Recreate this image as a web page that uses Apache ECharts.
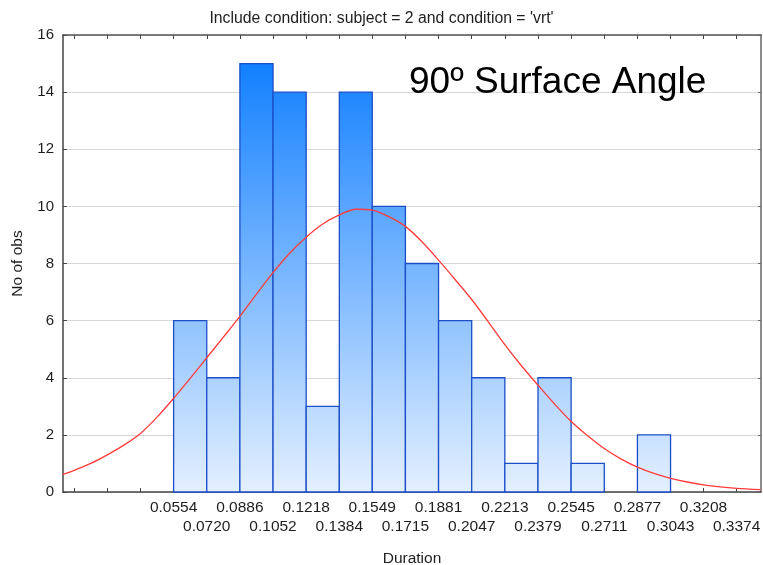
<!DOCTYPE html>
<html>
<head>
<meta charset="utf-8">
<script src="https://cdn.jsdelivr.net/npm/echarts@6/dist/echarts.min.js"></script>
<style>html,body{margin:0;padding:0;background:#fff}#c{width:763px;height:565px}</style>
</head>
<body>
<div id="c"></div>
<script>
// ---- data ----
const titleText = "Include condition: subject = 2 and condition = 'vrt'";
const annotation = "90º Surface Angle";
const xName = "Duration";
const yName = "No of obs";
// histogram bin edges (also the labelled ticks)
const binEdges = [0.0554, 0.0720, 0.0886, 0.1052, 0.1218, 0.1384, 0.1549, 0.1715, 0.1881,
                  0.2047, 0.2213, 0.2379, 0.2545, 0.2711, 0.2877, 0.3043, 0.3208, 0.3374];
// unlabelled ticks left of the first bin
const extraTicks = [0.0056, 0.0222, 0.0388];
// counts per bin
const counts = [6, 4, 15, 14, 3, 14, 10, 8, 6, 4, 1, 4, 1, 0, 2, 0, 0];
// fitted normal curve
const curveX = [0.0000, 0.0056, 0.0139, 0.0222, 0.0305, 0.0388, 0.0471, 0.0554, 0.0637, 0.0720,
                0.0803, 0.0886, 0.0969, 0.1052, 0.1135, 0.1218, 0.1301, 0.1384, 0.1467,
                0.1549, 0.1632, 0.1715, 0.1798, 0.1881, 0.1964, 0.2047, 0.2130, 0.2213, 0.2296,
                0.2379, 0.2462, 0.2545, 0.2628, 0.2711, 0.2794, 0.2877, 0.2960, 0.3043, 0.3126,
                0.3208, 0.3291, 0.3374, 0.3494];
const curveY = [0.62, 0.76, 1.0, 1.3, 1.64, 2.05, 2.62, 3.28, 3.98, 4.7,
                5.42, 6.15, 6.93, 7.68, 8.36, 8.92, 9.38, 9.7, 9.9,
                9.87, 9.64, 9.3, 8.76, 8.12, 7.44, 6.74, 5.96, 5.16, 4.42,
                3.74, 3.08, 2.47, 1.97, 1.52, 1.16, 0.87, 0.65, 0.48, 0.35,
                0.25, 0.18, 0.13, 0.08];
const xMin = 0, xMax = 0.3496;
const yMin = 0, yMax = 16, yStep = 2;

// ---- build ----
const chart = echarts.init(document.getElementById('c'), null, {renderer: 'canvas'});
const binData = counts.map((v, i) => [binEdges[i], binEdges[i + 1], v]);
const curveData = curveX.map((x, i) => [x, curveY[i]]);
const tickValues = extraTicks.concat(binEdges);
const upperLabels = binEdges.filter((e, i) => i % 2 === 0);
const lowerLabels = binEdges.filter((e, i) => i % 2 === 1);
const maxCount = Math.max.apply(null, counts);

function lerpColor(a, b, t) {
  const r = Math.round(a[0] + (b[0] - a[0]) * t);
  const g = Math.round(a[1] + (b[1] - a[1]) * t);
  const bl = Math.round(a[2] + (b[2] - a[2]) * t);
  return 'rgb(' + r + ',' + g + ',' + bl + ')';
}
const lightC = [228, 240, 255], darkC = [18, 128, 255];

const font = '"Liberation Sans", Arial, sans-serif';
const textColor = '#1e1e1e';
const labelStyle = {
  margin: 7, showMinLabel: true, showMaxLabel: true, hideOverlap: false,
  fontFamily: font, fontSize: 15.5, color: textColor, lineHeight: 18,
  formatter: function (v) { return v.toFixed(4); }
};

const option = {
  animation: false,
  backgroundColor: '#fff',
  title: {
    text: titleText, left: 'center', top: 6,
    textStyle: {fontFamily: font, fontSize: 15.8, fontWeight: 'normal', color: textColor}
  },
  grid: {left: 63, right: 2, top: 35, bottom: 73, containLabel: false, outerBoundsMode: 'none'},
  xAxis: [{
    type: 'value', min: xMin, max: xMax, position: 'bottom',
    name: xName, nameLocation: 'middle', nameGap: 59,
    nameTextStyle: {fontFamily: font, fontSize: 15.5, color: textColor},
    axisLine: {onZero: false, lineStyle: {color: '#444', width: 1.5}},
    axisTick: {show: true, inside: true, length: 4, customValues: tickValues, lineStyle: {color: '#444'}},
    axisLabel: Object.assign({customValues: upperLabels}, labelStyle),
    splitLine: {show: false}
  }, {
    type: 'value', min: xMin, max: xMax, position: 'bottom', offset: 19,
    axisLine: {show: false, onZero: false},
    axisTick: {show: false},
    axisLabel: Object.assign({customValues: lowerLabels}, labelStyle),
    splitLine: {show: false}
  }, {
    type: 'value', min: xMin, max: xMax, position: 'top',
    axisLine: {onZero: false, lineStyle: {color: '#555', width: 1.5}},
    axisTick: {show: true, inside: true, length: 4, customValues: tickValues, lineStyle: {color: '#444'}},
    axisLabel: {show: false},
    splitLine: {show: false}
  }],
  yAxis: [{
    type: 'value', min: yMin, max: yMax, interval: yStep, position: 'left',
    name: yName, nameLocation: 'middle', nameGap: 37, nameRotate: 90,
    nameTextStyle: {fontFamily: font, fontSize: 15.5, color: textColor},
    axisLine: {show: true, onZero: false, lineStyle: {color: '#444', width: 1.5}},
    axisTick: {show: true, inside: true, length: 4, lineStyle: {color: '#444'}},
    axisLabel: {margin: 9, fontFamily: font, fontSize: 15, color: textColor},
    splitLine: {show: true, lineStyle: {color: '#d8d8d8', width: 1}}
  }, {
    type: 'value', min: yMin, max: yMax, interval: yStep, position: 'right',
    axisLine: {show: true, onZero: false, lineStyle: {color: '#666', width: 1.5}},
    axisTick: {show: true, inside: true, length: 3, lineStyle: {color: '#666'}},
    axisLabel: {show: false},
    splitLine: {show: false}
  }],
  series: [{
    type: 'custom',
    xAxisIndex: 0, yAxisIndex: 0,
    data: binData,
    encode: {x: [0, 1], y: 2},
    z: 2,
    renderItem: function (params, api) {
      const v = api.value(2);
      if (!v) return null;
      const p0 = api.coord([api.value(0), v]);
      const p1 = api.coord([api.value(1), 0]);
      const top = lerpColor(lightC, darkC, v / maxCount);
      return {
        type: 'rect',
        shape: {x: p0[0], y: p0[1], width: p1[0] - p0[0], height: p1[1] - p0[1]},
        style: {
          fill: new echarts.graphic.LinearGradient(0, 0, 0, 1, [
            {offset: 0, color: top}, {offset: 1, color: 'rgb(' + lightC.join(',') + ')'}
          ]),
          stroke: '#1c4ec8', lineWidth: 1.3
        }
      };
    }
  }, {
    type: 'line',
    xAxisIndex: 0, yAxisIndex: 0,
    data: curveData,
    smooth: 0.3,
    showSymbol: false,
    symbol: 'none',
    z: 5,
    lineStyle: {color: '#ff3b3b', width: 1.3}
  }],
  graphic: [{
    type: 'text', left: 409, top: 64, z: 10,
    style: {text: annotation, fontFamily: font, fontSize: 37, fill: '#000'}
  }]
};
chart.setOption(option);
</script>
</body>
</html>
